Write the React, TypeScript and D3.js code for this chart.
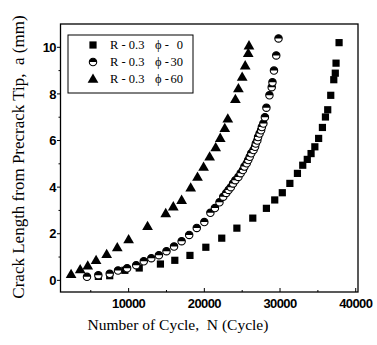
import * as d3 from 'd3';

const phi0: [number, number][] = [
  [6000, 0.17], [7500, 0.2], [9500, 0.43], [11400, 0.53], [14200, 0.7], [16100, 0.86],
  [18100, 1.07], [20200, 1.42], [22300, 1.81], [24300, 2.24], [26400, 2.67], [28200, 3.09],
  [29300, 3.45], [30300, 3.76], [31300, 4.16], [32300, 4.59], [33000, 4.94], [33600, 5.19],
  [34100, 5.44], [34600, 5.73], [35100, 6.09], [35600, 6.56], [36000, 7.01], [36300, 7.32],
  [36700, 7.94], [37100, 8.61], [37300, 8.89], [37400, 9.32], [37800, 10.2],
];

const phi30: [number, number][] = [
  [4500, 0.15], [6000, 0.22], [7500, 0.28], [8600, 0.42], [9800, 0.52], [11000, 0.65],
  [12000, 0.82], [13000, 0.95], [14000, 1.08], [15000, 1.25], [16000, 1.45], [17000, 1.68],
  [18000, 1.95], [19000, 2.25], [20000, 2.5], [20800, 2.9], [21400, 3.1], [22000, 3.35],
  [22500, 3.59], [22900, 3.75], [23200, 3.88], [23500, 4.0], [23800, 4.16], [24100, 4.3],
  [24500, 4.44], [24800, 4.6], [25100, 4.73], [25300, 4.88], [25600, 5.02], [25800, 5.16],
  [26000, 5.3], [26200, 5.45], [26500, 5.59], [26700, 5.73], [26800, 5.87], [27000, 6.0],
  [27100, 6.15], [27300, 6.3], [27500, 6.44], [27600, 6.58], [27800, 6.73], [28000, 7.0],
  [28200, 7.41], [28600, 7.94], [28900, 8.29], [29000, 8.5], [29200, 9.0], [29500, 9.65],
  [29800, 10.38],
];

const phi60: [number, number][] = [
  [2400, 0.26], [3600, 0.46], [4600, 0.62], [5700, 0.86], [7100, 1.12], [8500, 1.41],
  [10000, 1.75], [12500, 2.32], [14900, 2.87], [15900, 3.16], [17000, 3.44], [18200, 3.97],
  [19100, 4.43], [19900, 4.86], [20700, 5.3], [21500, 5.7], [22100, 6.1], [22700, 6.52],
  [23100, 6.93], [24100, 7.77], [24500, 8.23], [25000, 8.72], [25400, 9.21], [25800, 9.74],
  [25900, 10.07],
];

const xTicks = [10000, 20000, 30000, 40000];
const xMinor = [5000, 15000, 25000, 35000];
const yTicks = [0, 2, 4, 6, 8, 10];
const yMinor = [1, 3, 5, 7, 9];
const legendRows = [
  { kind: 'square', r: 'R - 0.3', phi: '0' },
  { kind: 'circle', r: 'R - 0.3', phi: '30' },
  { kind: 'triangle', r: 'R - 0.3', phi: '60' },
];

const serif = "'Liberation Serif', 'Times New Roman', serif";
const sans = "'Liberation Sans', Arial, sans-serif";

function Marker({ kind, cx, cy }: { kind: string; cx: number; cy: number }) {
  if (kind === 'square') {
    return <rect x={cx - 3.6} y={cy - 3.6} width={7.2} height={7.2} fill="#000" />;
  }
  if (kind === 'triangle') {
    const s = d3.symbol(d3.symbolTriangle, 50)();
    return <path d={s ?? ''} transform={`translate(${cx},${cy + 0.6})`} fill="#000" />;
  }
  const r = 3.7;
  return (
    <g transform={`translate(${cx},${cy})`}>
      <circle r={r} fill="#fff" stroke="#000" strokeWidth={1.1} />
      <path d={`M${-r},0 A${r},${r} 0 0 1 ${r},0 Z`} fill="#000" />
    </g>
  );
}

export default function App() {
  const x = d3.scaleLinear().domain([1000, 40300]).range([60.5, 358]);
  const y = d3.scaleLinear().domain([-0.5, 11]).range([292, 24]);
  const [x0, x1] = x.range();
  const [y0, y1] = y.range();

  return (
    <svg
      width={377}
      height={345}
      style={{ position: 'absolute', left: 0, top: 0, background: '#fff' }}
    >
      <rect x={x0} y={y1} width={x1 - x0} height={y0 - y1} fill="none" stroke="#000" strokeWidth={1.3} />

      {xTicks.map((t) => (
        <g key={t}>
          <line x1={x(t)} x2={x(t)} y1={y0} y2={y0 - 4} stroke="#000" strokeWidth={1} />
          <text
            x={x(t)}
            y={308}
            textAnchor="middle"
            fontFamily={sans}
            fontWeight={700}
            fontSize={13}
            letterSpacing={-0.6}
          >
            {t}
          </text>
        </g>
      ))}
      {xMinor.map((t) => (
        <line key={t} x1={x(t)} x2={x(t)} y1={y0} y2={y0 - 2} stroke="#000" strokeWidth={1} />
      ))}

      {yTicks.map((t) => (
        <g key={t}>
          <line x1={x0} x2={x0 - 3.5} y1={y(t)} y2={y(t)} stroke="#000" strokeWidth={1} />
          <text
            x={56}
            y={y(t) + 4.6}
            textAnchor="end"
            fontFamily={sans}
            fontWeight={700}
            fontSize={13}
            letterSpacing={-0.6}
          >
            {t}
          </text>
        </g>
      ))}
      {yMinor.map((t) => (
        <line key={t} x1={x0} x2={x0 - 2} y1={y(t)} y2={y(t)} stroke="#000" strokeWidth={1} />
      ))}

      {phi0.map(([n, a], i) => (
        <Marker key={`s${i}`} kind="square" cx={x(n)} cy={y(a)} />
      ))}
      {phi30.map(([n, a], i) => (
        <Marker key={`c${i}`} kind="circle" cx={x(n)} cy={y(a)} />
      ))}
      {phi60.map(([n, a], i) => (
        <Marker key={`t${i}`} kind="triangle" cx={x(n)} cy={y(a)} />
      ))}

      <rect x={68} y={35} width={125} height={58} fill="#fff" stroke="#000" strokeWidth={1} />
      {legendRows.map((row, i) => {
        const cy = 45 + i * 17;
        return (
          <g key={row.phi}>
            <Marker kind={row.kind} cx={93} cy={cy} />
            <text x={110} y={cy + 4} fontFamily={serif} fontSize={12.5}>
              {row.r}
            </text>
            <text x={155} y={cy + 4} fontFamily={serif} fontSize={12.5}>
              {'\u03D5 -'}
            </text>
            <text x={183} y={cy + 4} textAnchor="end" fontFamily={serif} fontSize={12.5}>
              {row.phi}
            </text>
          </g>
        );
      })}

      <text
        x={178}
        y={330}
        textAnchor="middle"
        fontFamily={serif}
        fontSize={15.5}
        style={{ whiteSpace: 'pre' }}
      >
        {'Number of Cycle,  N (Cycle)'}
      </text>
      <text
        transform="translate(23.5,157) rotate(-90)"
        textAnchor="middle"
        fontFamily={serif}
        fontSize={17}
        style={{ whiteSpace: 'pre' }}
      >
        {'Crack Length from Precrack Tip,  a (mm)'}
      </text>
    </svg>
  );
}
